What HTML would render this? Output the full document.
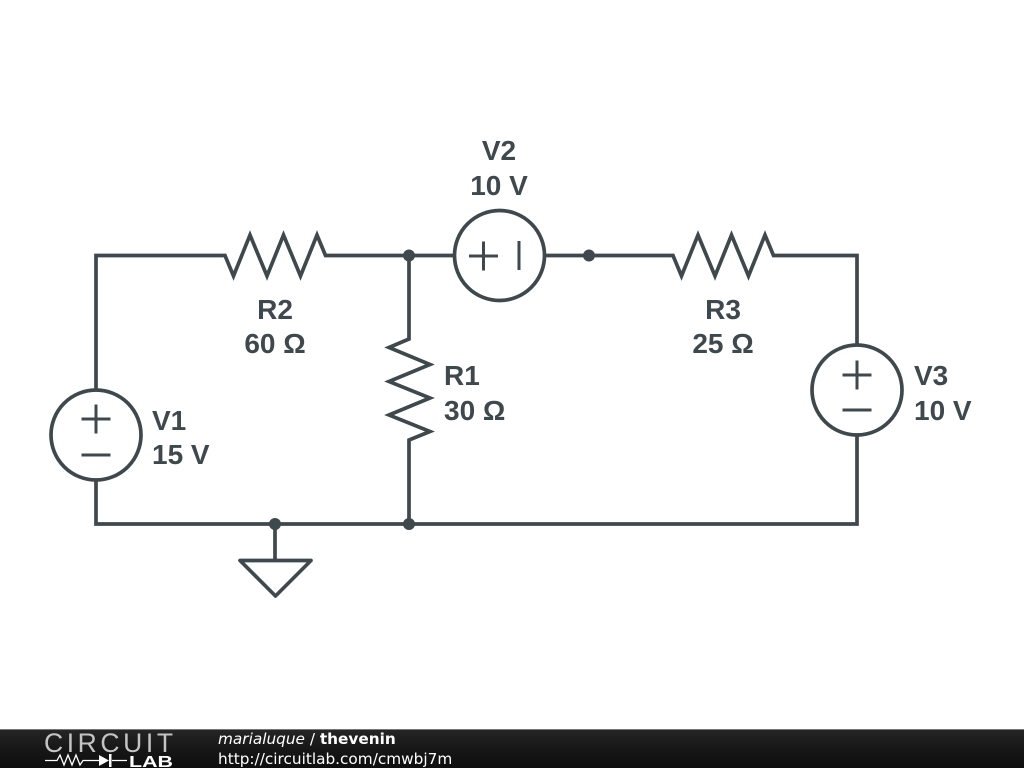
<!DOCTYPE html>
<html>
<head>
<meta charset="utf-8">
<style>
html,body{margin:0;padding:0;background:#fff;}
body{width:1024px;height:768px;overflow:hidden;position:relative;}
svg{position:absolute;left:0;top:0;}
.l{font-family:"Liberation Sans",sans-serif;font-weight:bold;font-size:28px;fill:#3f484d;}
.f{font-family:"DejaVu Sans",sans-serif;font-size:15.3px;fill:#fff;}
</style>
</head>
<body>
<svg width="1024" height="768" viewBox="0 0 1024 768" xmlns="http://www.w3.org/2000/svg">
<defs>
<linearGradient id="g" x1="0" y1="0" x2="0" y2="1">
<stop offset="0" stop-color="#262626"/>
<stop offset="0.5" stop-color="#171717"/>
<stop offset="1" stop-color="#0e0e0e"/>
</linearGradient>
</defs>
<g fill="none" stroke="#3f484d" stroke-width="3.7" stroke-linejoin="miter" stroke-linecap="butt">
<path d="M96 390 V255.500 H225 L233.500 276 L250 235 L267 276 L283.500 235 L300.500 276 L317 235 L325.500 255.500 H454"/>
<path d="M545 255.500 H673 L681.500 276 L698 235 L715 276 L731.500 235 L748.500 276 L765 235 L773.500 255.500 H857 V345"/>
<path d="M409 255.500 V339 L389 347.500 L430 364.500 L389 381.500 L430 398 L389 415 L430 431.500 L409 440 V524"/>
<path d="M96 480 V524 H857 V435"/>
<path d="M275 524 V560"/>
<path d="M240 560.500 H311 L275.500 596 Z" stroke-linejoin="round"/>
<circle cx="499.500" cy="255.500" r="45"/>
<circle cx="96" cy="435" r="45"/>
<circle cx="857" cy="390" r="45"/>
<path d="M469 256 H498 M483.500 241.500 V270.500 M519 241 V270" stroke-width="3"/>
<path d="M81.500 419 H110.500 M96 404.500 V433.500 M81.500 455 H110.500" stroke-width="3"/>
<path d="M842.500 375 H871.500 M857 360.500 V389.500 M842.500 410 H871.500" stroke-width="3"/>
</g>
<g fill="#3f484d">
<circle cx="409" cy="255.500" r="6"/>
<circle cx="589" cy="255.500" r="6"/>
<circle cx="275" cy="524" r="6"/>
<circle cx="409" cy="524" r="6"/>
</g>
<g class="l">
<text x="499" y="160" text-anchor="middle">V2</text>
<text x="499" y="195" text-anchor="middle">10 V</text>
<text x="275" y="319" text-anchor="middle">R2</text>
<text x="275" y="353" text-anchor="middle">60 Ω</text>
<text x="723" y="319" text-anchor="middle">R3</text>
<text x="723" y="353" text-anchor="middle">25 Ω</text>
<text x="444" y="385">R1</text>
<text x="444" y="420">30 Ω</text>
<text x="152" y="430">V1</text>
<text x="152" y="464">15 V</text>
<text x="914" y="385">V3</text>
<text x="914" y="420">10 V</text>
</g>
<rect x="0" y="729" width="1024" height="39" fill="url(#g)"/>
<rect x="0" y="729" width="1024" height="1" fill="#777"/>
<text x="44" y="752" font-family="'Liberation Sans',sans-serif" font-size="26.500" fill="#c4c4c4" textLength="129" lengthAdjust="spacing">CIRCUIT</text>
<path d="M45 760.500 H57 L60 755 L64 765 L68 755 L72 765 L76 755 L80 765 L83 760.500 H99 M112 760.500 H127" fill="none" stroke="#fff" stroke-width="1.300"/>
<path d="M99 755 L109 760.500 L99 766 Z M109 754 H111.500 V767 H109 Z" fill="#fff"/>
<text x="129" y="767" font-family="'Liberation Sans',sans-serif" font-weight="bold" font-size="16" fill="#fff" textLength="44" lengthAdjust="spacingAndGlyphs">LAB</text>
<text class="f" x="218" y="744"><tspan font-style="italic">marialuque</tspan> / <tspan font-weight="bold">thevenin</tspan></text>
<text class="f" x="218" y="764">http://circuitlab.com/cmwbj7m</text>
</svg>
</body>
</html>
